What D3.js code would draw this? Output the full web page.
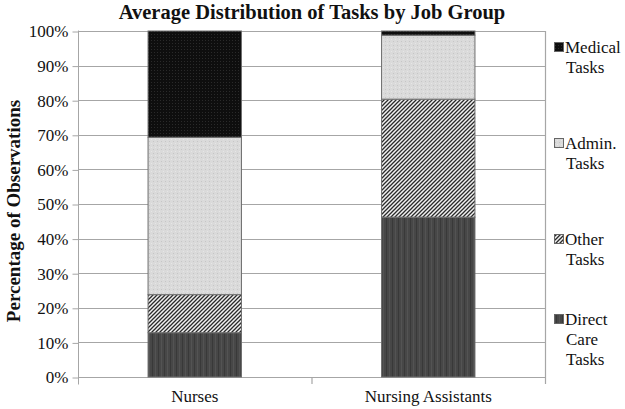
<!DOCTYPE html>
<html>
<head>
<meta charset="utf-8">
<script src="https://cdn.jsdelivr.net/npm/d3@7"></script>
<style>
  body { margin: 0; background: #fff; }
</style>
</head>
<body>
<script>
//job groups along the x axis
var groups = ["Nurses", "Nursing Assistants"];

//task types, stacked bottom to top
var tasks = ["Direct Care Tasks", "Other Tasks", "Admin. Tasks", "Medical Tasks"];

//percent of observations per task, one array per job group
var nursesValues = [12.8, 11.0, 45.5, 30.7];
var assistantsValues = [46.2, 34.1, 18.5, 1.2];

//y axis ticks
var yTicks = [0, 10, 20, 30, 40, 50, 60, 70, 80, 90, 100];

//legend lines for each task, top to bottom
var legendLines = [
    ["Medical", "Tasks"],
    ["Admin.", "Tasks"],
    ["Other", "Tasks"],
    ["Direct", "Care", "Tasks"]
];

var serif = "'Liberation Serif', 'Times New Roman', serif";

window.onload = drawChart();

function drawChart() {
    var width = 625,
        height = 409;

    var margin = { left: 78, right: 80, top: 31, bottom: 32 };

    var svg = d3.select("body")
        .append("svg")
        .attr("width", width)
        .attr("height", height)
        .attr("font-family", serif);

    //fill patterns for the four task types
    var defs = svg.append("defs");
    makePatterns(defs);

    var fills = {
        "Direct Care Tasks": "url(#pDirect)",
        "Other Tasks": "url(#pOther)",
        "Admin. Tasks": "url(#pAdmin)",
        "Medical Tasks": "url(#pMedical)"
    };

    var x = d3.scaleBand()
        .domain(groups)
        .range([margin.left, width - margin.right])
        .paddingInner(0)
        .paddingOuter(0);

    var y = d3.scaleLinear()
        .domain([0, 100])
        .range([height - margin.bottom, margin.top]);

    //gridlines
    svg.append("g")
        .selectAll("line")
        .data(yTicks)
        .join("line")
        .attr("x1", margin.left)
        .attr("x2", width - margin.right)
        .attr("y1", function (d) { return Math.round(y(d)) + 0.5; })
        .attr("y2", function (d) { return Math.round(y(d)) + 0.5; })
        .attr("stroke", "#a6a6a6")
        .attr("stroke-width", 1.2);

    //right frame line
    svg.append("line")
        .attr("x1", width - margin.right + 0.5)
        .attr("x2", width - margin.right + 0.5)
        .attr("y1", y(100))
        .attr("y2", y(0) + 7)
        .attr("stroke", "#a6a6a6")
        .attr("stroke-width", 1.2);

    //y axis
    var yAxis = d3.axisLeft(y)
        .tickValues(yTicks)
        .tickSize(6)
        .tickFormat(function (d) { return d + "%"; });

    var yg = svg.append("g")
        .attr("transform", "translate(" + (margin.left + 0.5) + ",0.5)")
        .call(yAxis)
        .attr("font-family", serif)
        .attr("font-size", 17);
    yg.select(".domain").attr("stroke", "#a6a6a6").attr("d", "M0," + (y(100) - 1) + "V" + (y(0) + 7));
    yg.selectAll(".tick line").attr("stroke", "#a6a6a6");
    yg.selectAll(".tick text")
        .attr("x", -10)
        .attr("fill", "#111");

    //x axis divider ticks
    svg.append("g")
        .selectAll("line")
        .data([groups[1]])
        .join("line")
        .attr("x1", function (d) { return x(d) + 0.5; })
        .attr("x2", function (d) { return x(d) + 0.5; })
        .attr("y1", y(0))
        .attr("y2", y(0) + 7)
        .attr("stroke", "#a6a6a6")
        .attr("stroke-width", 1.2);

    //stacked series
    var rows = groups.map(function (g, i) {
        var vals = i === 0 ? nursesValues : assistantsValues;
        var row = { group: g };
        tasks.forEach(function (t, j) { row[t] = vals[j]; });
        return row;
    });

    var series = d3.stack().keys(tasks)(rows);

    var barW = x.bandwidth() * 0.4;

    svg.append("g")
        .selectAll("g")
        .data(series)
        .join("g")
        .attr("fill", function (d) { return fills[d.key]; })
        .selectAll("rect")
        .data(function (d) { return d; })
        .join("rect")
        .attr("x", function (d) { return x(d.data.group) + x.bandwidth() / 2 - barW / 2; })
        .attr("width", barW)
        .attr("y", function (d) { return y(d[1]); })
        .attr("height", function (d) { return y(d[0]) - y(d[1]); })
        .attr("stroke", "#6e6e6e")
        .attr("stroke-width", 1);

    //category labels
    svg.append("g")
        .selectAll("text")
        .data(groups)
        .join("text")
        .attr("x", function (d) { return x(d) + x.bandwidth() / 2; })
        .attr("y", 402)
        .attr("text-anchor", "middle")
        .attr("font-size", 17)
        .attr("fill", "#111")
        .text(function (d) { return d; });

    //title
    svg.append("text")
        .attr("x", 312)
        .attr("y", 19)
        .attr("text-anchor", "middle")
        .attr("font-size", 20.5)
        .attr("font-weight", "bold")
        .attr("fill", "#111")
        .text("Average Distribution of Tasks by Job Group");

    //y axis title
    svg.append("text")
        .attr("transform", "translate(20,211) rotate(-90)")
        .attr("text-anchor", "middle")
        .attr("font-size", 19)
        .attr("font-weight", "bold")
        .attr("fill", "#111")
        .text("Percentage of Observations");

    //legend
    var legendTasks = tasks.slice().reverse();
    var legendY = [53, 149, 245, 325];

    var lg = svg.append("g")
        .selectAll("g")
        .data(legendTasks)
        .join("g")
        .attr("transform", function (d, i) { return "translate(554," + legendY[i] + ")"; });

    lg.append("rect")
        .attr("x", 0.5)
        .attr("y", -10.5)
        .attr("width", 9)
        .attr("height", 9)
        .attr("fill", function (d) { return fills[d]; })
        .attr("stroke", "#666")
        .attr("stroke-width", 1);

    lg.append("text")
        .attr("font-size", 17)
        .attr("fill", "#111")
        .selectAll("tspan")
        .data(function (d, i) { return legendLines[i]; })
        .join("tspan")
        .attr("x", function (d, i) { return i === 0 ? 11 : 12; })
        .attr("dy", function (d, i) { return i === 0 ? 0 : 20; })
        .text(function (d) { return d; });
}

function makePatterns(defs) {
    //medical: black with fine dots
    var pm = defs.append("pattern")
        .attr("id", "pMedical")
        .attr("patternUnits", "userSpaceOnUse")
        .attr("width", 3).attr("height", 3);
    pm.append("rect").attr("width", 3).attr("height", 3).attr("fill", "#0e0e0e");
    pm.append("rect").attr("x", 1).attr("y", 1).attr("width", 1).attr("height", 1).attr("fill", "#2a2a2a");

    //admin: light gray stipple
    var pa = defs.append("pattern")
        .attr("id", "pAdmin")
        .attr("patternUnits", "userSpaceOnUse")
        .attr("width", 4).attr("height", 4);
    pa.append("rect").attr("width", 4).attr("height", 4).attr("fill", "#dadada");
    pa.append("rect").attr("x", 1).attr("y", 1).attr("width", 1).attr("height", 1).attr("fill", "#c6c6c6");
    pa.append("rect").attr("x", 3).attr("y", 3).attr("width", 1).attr("height", 1).attr("fill", "#e6e6e6");

    //other: diagonal hatch
    var po = defs.append("pattern")
        .attr("id", "pOther")
        .attr("patternUnits", "userSpaceOnUse")
        .attr("width", 4).attr("height", 4);
    po.append("rect").attr("width", 4).attr("height", 4).attr("fill", "#f2f2f2");
    po.append("path")
        .attr("d", "M-1,1 l2,-2 M0,4 l4,-4 M3,5 l2,-2")
        .attr("stroke", "#2a2a2a")
        .attr("stroke-width", 1.3);

    //direct care: dark gray with vertical streaks
    var pd = defs.append("pattern")
        .attr("id", "pDirect")
        .attr("patternUnits", "userSpaceOnUse")
        .attr("width", 6).attr("height", 6);
    pd.append("rect").attr("width", 6).attr("height", 6).attr("fill", "#474747");
    pd.append("rect").attr("x", 2).attr("width", 1).attr("height", 6).attr("fill", "#393939");
    pd.append("rect").attr("x", 5).attr("width", 1).attr("height", 6).attr("fill", "#535353");
}
</script>
</body>
</html>
